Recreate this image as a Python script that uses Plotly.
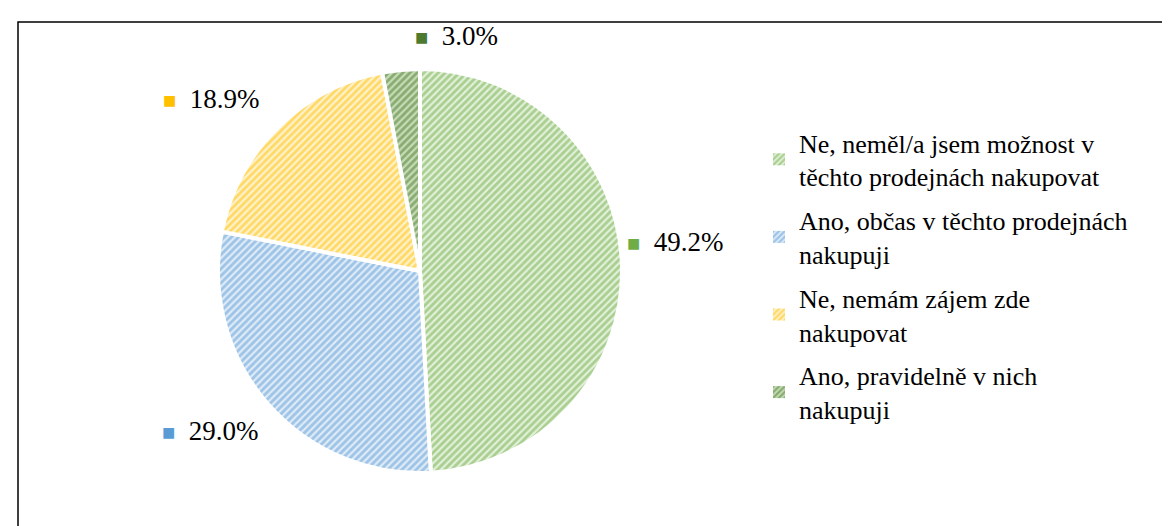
import plotly.graph_objects as go
import math

categories = [
    "Ne, neměl/a jsem možnost v<br>těchto prodejnách nakupovat",
    "Ano, občas v těchto prodejnách<br>nakupuji",
    "Ne, nemám zájem zde<br>nakupovat",
    "Ano, pravidelně v nich<br>nakupuji",
]
values = [49.2, 29.0, 18.9, 3.0]
fg_colors = ["#70AD47", "#5B9BD5", "#FFC000", "#4E7A30"]
bg_colors = ["#E2F0D9", "#DEEBF7", "#FFF2CC", "#C5DCB5"]

FONT = "Liberation Serif"
W, H = 1170, 526

# pie geometry (paper fractions)
dom_x = [210 / W, 614 / W]
dom_y = [(H - 465) / H, (H - 61) / H]

pattern_common = dict(shape="/", fillmode="overlay", size=5, solidity=0.55)

fig = go.Figure()
fig.add_trace(go.Pie(
    labels=categories,
    values=values,
    sort=False,
    direction="clockwise",
    rotation=0,
    textinfo="none",
    hoverinfo="label+percent",
    showlegend=False,
    domain=dict(x=dom_x, y=dom_y),
    marker=dict(
        colors=bg_colors,
        line=dict(color="white", width=4),
        pattern=dict(fgcolor=fg_colors, bgcolor=bg_colors, **pattern_common),
    ),
))

# legend entries (one per category, so that the gap between entries can be set)
for name, fg, bg in zip(categories, fg_colors, bg_colors):
    fig.add_trace(go.Bar(
        x=[None], y=[None], name=name, legendgroup=name,
        marker=dict(color=bg, line=dict(width=0),
                    pattern=dict(fgcolor=fg, bgcolor=bg, **pattern_common)),
        hoverinfo="skip",
    ))

# data labels placed outside each slice, positioned from the slice mid-angle
cx = (dom_x[0] + dom_x[1]) / 2 * W + 8
cy = H - (dom_y[0] + dom_y[1]) / 2 * H + 7
r = (dom_x[1] - dom_x[0]) / 2 * W - 3
total = sum(values)
label_offsets = [(-10, -30), (-100, 7), (-110, -21), (7, -10)]
label_radius = [1.04, 1.12, 1.12, 1.17]
cum = 0.0
for v, c, off, rf in zip(values, fg_colors, label_offsets, label_radius):
    mid = (cum + v / 2) / total * 2 * math.pi
    cum += v
    px = cx + rf * r * math.sin(mid) + off[0]
    py = cy - rf * r * math.cos(mid) + off[1]
    fig.add_annotation(
        x=px / W, y=1 - py / H, xref="paper", yref="paper",
        xanchor="left", yanchor="middle", showarrow=False,
        text=f"<span style='font-size:22px;color:{c}'>■</span>  {v:.1f}%",
        font=dict(family=FONT, size=27, color="#000000"),
    )

fig.add_shape(type="rect", xref="paper", yref="paper",
              x0=10 / W, x1=1.02, y0=-0.02, y1=1 - 14 / H,
              line=dict(color="#000000", width=1.5), fillcolor="rgba(0,0,0,0)")

fig.update_layout(
    width=W, height=H,
    margin=dict(l=0, r=0, t=0, b=0),
    paper_bgcolor="white",
    plot_bgcolor="white",
    font=dict(family=FONT, size=26, color="#000000"),
    xaxis=dict(visible=False),
    yaxis=dict(visible=False),
    legend=dict(
        x=751 / W, y=1 - 111 / H, xanchor="left", yanchor="top",
        font=dict(family=FONT, size=26, color="#000000"),
        tracegroupgap=7,
        bgcolor="rgba(0,0,0,0)",
    ),
    showlegend=True,
)

fig.write_html("out.html")
